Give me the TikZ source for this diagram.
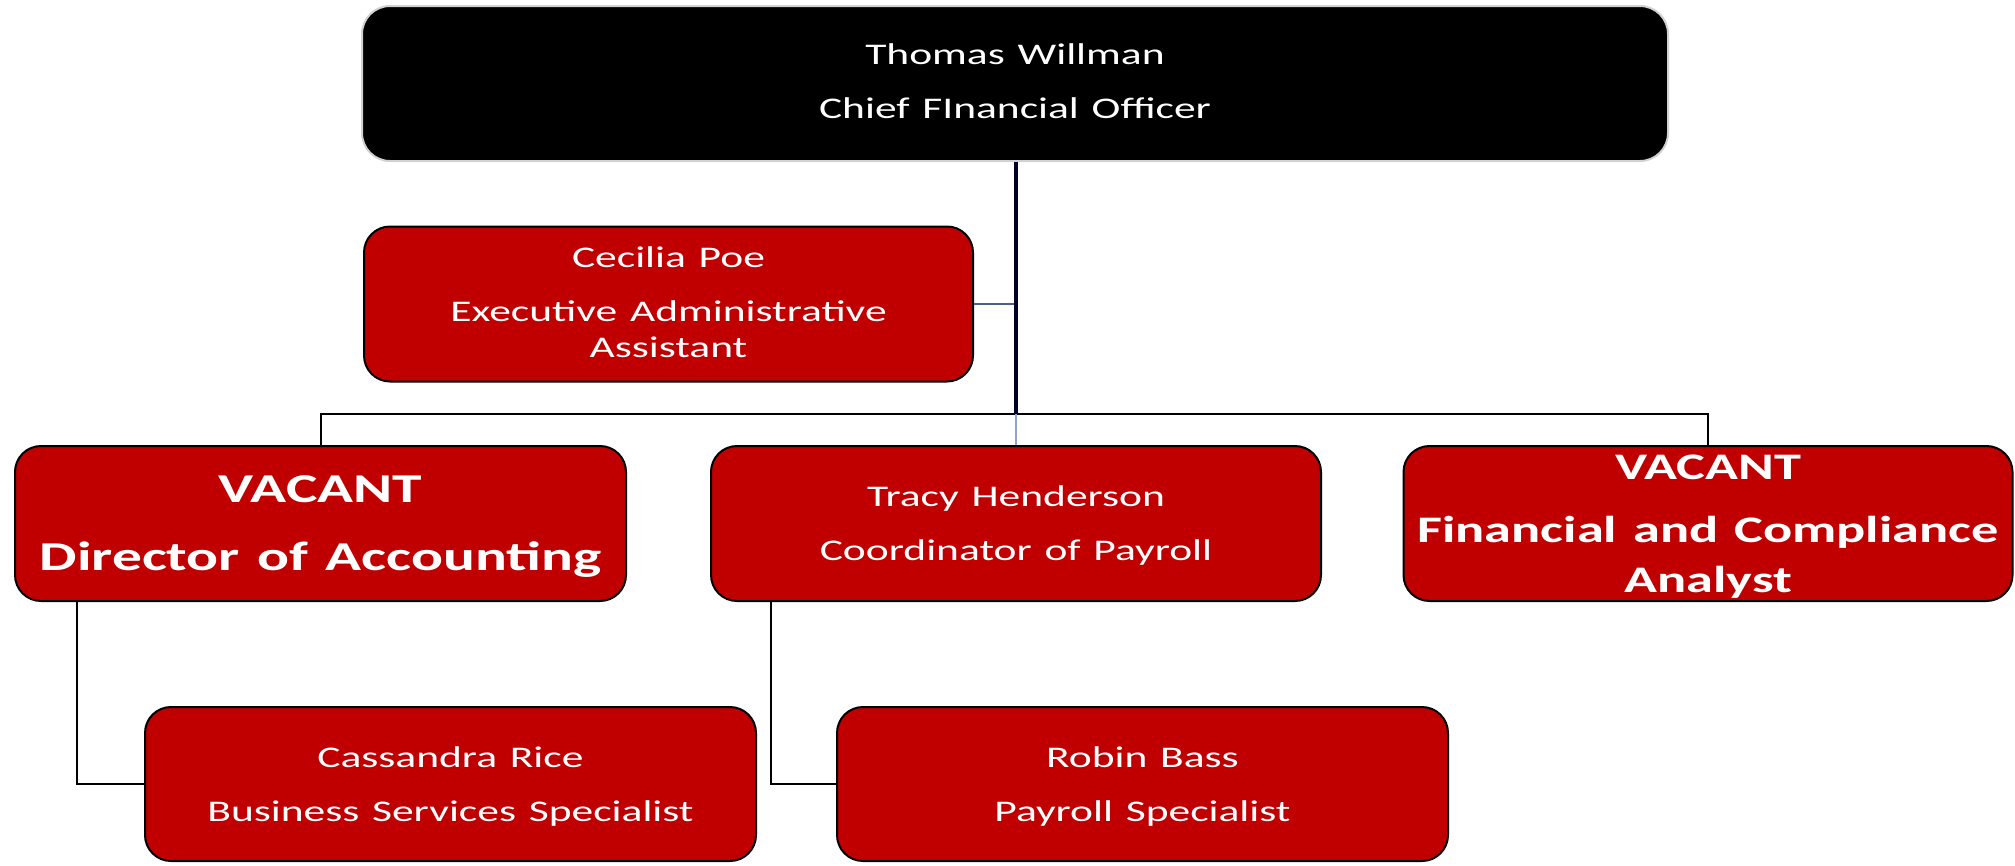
\documentclass[tikz,border=0pt]{standalone}
\usepackage{fontspec}
\setmainfont{Carlito}[FakeStretch=1.45, WordSpace=1.3]
\definecolor{boxred}{HTML}{C00000}
\definecolor{slate}{HTML}{4A5F85}
\definecolor{lightlink}{HTML}{8FA3CC}
\begin{document}
\begin{tikzpicture}[x=1pt,y=-1pt,
  redbox/.style={draw=black, line width=2pt, fill=boxred, rounded corners=26pt, inner sep=0pt, minimum height=155pt},
  topbox/.style={draw=black!18, line width=2pt, fill=black, rounded corners=28pt, inner sep=0pt, minimum height=155pt},
  nm/.style={text=white, anchor=base, inner sep=0pt, font=\fontsize{30}{36}\selectfont},
  vb/.style={text=white, anchor=base, inner sep=0pt, font=\bfseries\fontsize{41}{50}\selectfont},
  vbs/.style={text=white, anchor=base, inner sep=0pt, font=\bfseries\fontsize{37.5}{46}\selectfont},
  link/.style={draw=black, line width=2pt}
]
\fill[white] (0,0) rectangle (2015,865);
\useasboundingbox (0,0) rectangle (2015,865);

\coordinate (bus) at (1016,414);

% boxes
\node[topbox, minimum width=1306pt] (top) at (1015,83.5) {};
\node[redbox, minimum width=609pt] (cec) at (668.5,304) {};
\node[redbox, minimum width=611pt] (dir) at (320.5,523.5) {};
\node[redbox, minimum width=610pt] (tra) at (1016,523.5) {};
\node[redbox, minimum width=609pt] (fca) at (1708,523.5) {};
\node[redbox, minimum width=611pt, minimum height=154pt] (cas) at (450.5,784) {};
\node[redbox, minimum width=611pt, minimum height=154pt] (rob) at (1142.5,784) {};

% lines
\draw[draw=slate, line width=1.6pt] (cec.east) -- (cec.east -| bus);
\draw[draw=black!85!blue, line width=3.5pt] (top.south -| bus) -- (bus);
\draw[link] (dir.north) |- (bus) -| (fca.north);
\draw[draw=lightlink, line width=2pt] (bus) -- (tra.north);
\coordinate (dirfoot) at (77,601);
\coordinate (trafoot) at (771,601);
\draw[link] (dirfoot) |- (cas.west);
\draw[link] (trafoot) |- (rob.west);

% texts
\node[nm] (t1) at (top.center |- 0,64) {Thomas Willman};
\node[nm] (t2) at (top.center |- 0,118) {Chief FInancial Officer};
\node[nm] (c1) at (cec.center |- 0,267) {Cecilia Poe};
\node[nm] (c2) at (cec.center |- 0,321) {Executive Administrative};
\node[nm] (c3) at (cec.center |- 0,357) {Assistant};
\node[vb] (d1) at (dir.center |- 0,502) {VACANT};
\node[vb] (d2) at (dir.center |- 0,570) {Director of Accounting};
\node[nm] (r1) at (tra.center |- 0,506) {Tracy Henderson};
\node[nm] (r2) at (tra.center |- 0,560) {Coordinator of Payroll};
\node[vbs] (f1) at (fca.center |- 0,479) {VACANT};
\node[vbs] (f2) at (fca.center |- 0,542) {Financial and Compliance};
\node[vbs] (f3) at (fca.center |- 0,592) {Analyst};
\node[nm] (s1) at (cas.center |- 0,767) {Cassandra Rice};
\node[nm] (s2) at (cas.center |- 0,821) {Business Services Specialist};
\node[nm] (b1) at (rob.center |- 0,767) {Robin Bass};
\node[nm] (b2) at (rob.center |- 0,821) {Payroll Specialist};
\end{tikzpicture}
\end{document}
